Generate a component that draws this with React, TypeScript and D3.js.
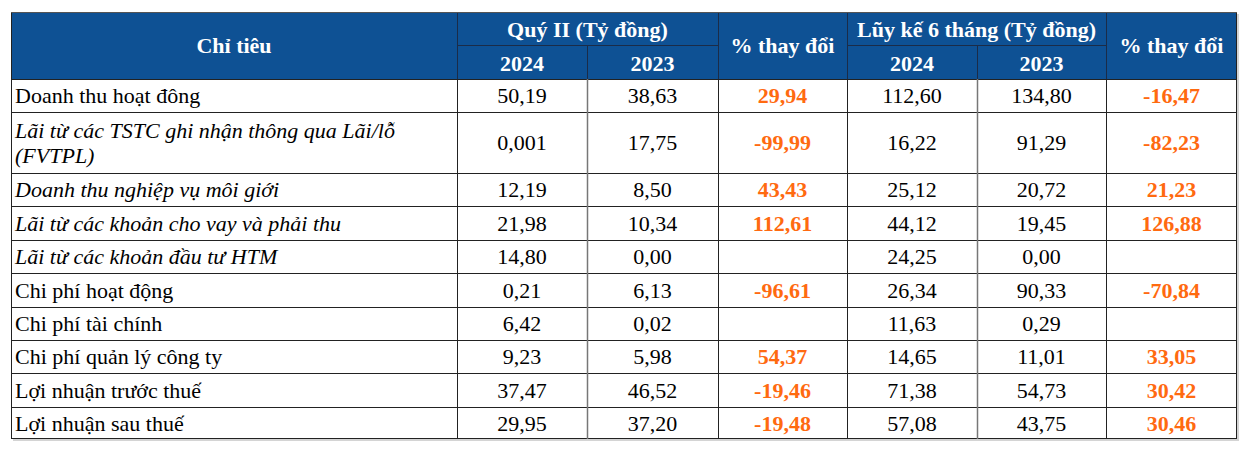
import React from "react";
import * as d3 from "d3";

const categories = [
  "Doanh thu hoạt đông",
  "Lãi từ các TSTC ghi nhận thông qua Lãi/lỗ|(FVTPL)",
  "Doanh thu nghiệp vụ môi giới",
  "Lãi từ các khoản cho vay và phải thu",
  "Lãi từ các khoản đầu tư HTM",
  "Chi phí hoạt động",
  "Chi phí tài chính",
  "Chi phí quản lý công ty",
  "Lợi nhuận trước thuế",
  "Lợi nhuận sau thuế",
];
const italicRows = [false, true, true, true, true, false, false, false, false, false];
const q2_2024 = ["50,19", "0,001", "12,19", "21,98", "14,80", "0,21", "6,42", "9,23", "37,47", "29,95"];
const q2_2023 = ["38,63", "17,75", "8,50", "10,34", "0,00", "6,13", "0,02", "5,98", "46,52", "37,20"];
const q2_change = ["29,94", "-99,99", "43,43", "112,61", "", "-96,61", "", "54,37", "-19,46", "-19,48"];
const h1_2024 = ["112,60", "16,22", "25,12", "44,12", "24,25", "26,34", "11,63", "14,65", "71,38", "57,08"];
const h1_2023 = ["134,80", "91,29", "20,72", "19,45", "0,00", "90,33", "0,29", "11,01", "54,73", "43,75"];
const h1_change = ["-16,47", "-82,23", "21,23", "126,88", "", "-70,84", "", "33,05", "30,42", "30,46"];

const groupHeaders = ["Quý II (Tỷ đồng)", "Lũy kế 6 tháng (Tỷ đồng)"];
const yearLabels = ["2024", "2023"];
const headerFirst = "Chỉ tiêu";
const headerChange = "% thay đổi";

const colEdges = [11, 457, 587, 718, 847, 977, 1106, 1237];
const rowEdges = [79, 112, 173, 206, 240, 273, 307, 340, 373, 407, 439];
const headTop = 12;
const headMid = 45.5;

const BLUE = "#0E5194";
const ORANGE = "#FF6A10";
const FONT = "Liberation Serif";
const FS = 22;

function T(props: any) {
  const { children, style, ...rest } = props;
  return (
    <text fontSize={FS} {...rest} style={{ fontFamily: FONT, ...(style || {}) }}>
      {children}
    </text>
  );
}

export default function App() {
  const cols = [q2_2024, q2_2023, q2_change, h1_2024, h1_2023, h1_change];
  const rowIdx = d3.range(categories.length);
  const cx = (i: number) => (colEdges[i] + colEdges[i + 1]) / 2;
  const hMidY = (headTop + rowEdges[0]) / 2;
  const hTopY = (headTop + headMid) / 2;
  const hBotY = (headMid + rowEdges[0]) / 2;
  const bold = { fill: "#fff", fontWeight: "bold", textAnchor: "middle", dominantBaseline: "central" } as any;
  return (
    <svg width={1250} height={455} style={{ position: "absolute", left: 0, top: 0, background: "#fff" }}>
      <rect x={0} y={0} width={1250} height={455} fill="#fff" />
      <rect x={colEdges[0] + 2} y={headTop + 2} width={colEdges[7] - colEdges[0]} height={rowEdges[10] - headTop} fill="#d4d4d4" />
      <rect x={colEdges[0]} y={headTop} width={colEdges[7] - colEdges[0]} height={rowEdges[10] - headTop} fill="#fff" />
      <rect x={colEdges[0]} y={headTop} width={colEdges[7] - colEdges[0]} height={rowEdges[0] - headTop} fill={BLUE} />
      <g stroke="#1b2c48" strokeWidth={1}>
        {[1, 3, 4, 6].map((i) => (
          <line key={"hv" + i} x1={colEdges[i] + 0.5} x2={colEdges[i] + 0.5} y1={headTop} y2={rowEdges[0]} />
        ))}
        {[2, 5].map((i) => (
          <line key={"hs" + i} x1={colEdges[i] + 0.5} x2={colEdges[i] + 0.5} y1={headMid} y2={rowEdges[0]} />
        ))}
        <line x1={colEdges[1]} x2={colEdges[3]} y1={headMid} y2={headMid} />
        <line x1={colEdges[4]} x2={colEdges[6]} y1={headMid} y2={headMid} />
      </g>
      <T {...bold} x={cx(0)} y={hMidY}>{headerFirst}</T>
      <T {...bold} x={(colEdges[1] + colEdges[3]) / 2} y={hTopY + 1}>{groupHeaders[0]}</T>
      <T {...bold} x={(colEdges[4] + colEdges[6]) / 2} y={hTopY + 1}>{groupHeaders[1]}</T>
      <T {...bold} x={cx(3)} y={hMidY}>{headerChange}</T>
      <T {...bold} x={cx(6)} y={hMidY}>{headerChange}</T>
      {[1, 2, 4, 5].map((i, k) => (
        <T key={"y" + i} {...bold} x={cx(i)} y={hBotY + 1}>{yearLabels[k % 2]}</T>
      ))}
      <g stroke="#222" strokeWidth={1}>
        {rowEdges.slice(0, rowEdges.length - 1).map((y, i) => (
          <line key={"r" + i} x1={colEdges[0]} x2={colEdges[7]} y1={y + 0.5} y2={y + 0.5} />
        ))}
        <line x1={colEdges[0]} x2={colEdges[7]} y1={rowEdges[10] - 0.5} y2={rowEdges[10] - 0.5} />
        {colEdges.map((x, i) => (
          <line key={"c" + i} x1={x + (i === 7 ? -0.5 : 0.5)} x2={x + (i === 7 ? -0.5 : 0.5)} y1={i === 0 || i === 7 ? headTop : rowEdges[0]} y2={rowEdges[10]} stroke={i === 2 || i === 5 ? "#777" : "#222"} strokeWidth={i === 2 || i === 5 ? 1.5 : 1} />
        ))}
        <line x1={colEdges[0]} x2={colEdges[7]} y1={headTop + 0.5} y2={headTop + 0.5} stroke="#555" />
      </g>
      {rowIdx.map((r) => {
        const mid = (rowEdges[r] + rowEdges[r + 1]) / 2;
        const lines = categories[r].split("|");
        return (
          <g key={"row" + r}>
            {lines.map((t, li) => (
              <T key={li} x={colEdges[0] + 4} y={mid + (li - (lines.length - 1) / 2) * 25} dominantBaseline="central" fill="#000" fontStyle={italicRows[r] ? "italic" : "normal"}>
                {t}
              </T>
            ))}
            {cols.map((c, ci) => (
              <T key={"v" + ci} x={cx(ci + 1)} y={mid} dominantBaseline="central" textAnchor="middle" fill={ci === 2 || ci === 5 ? ORANGE : "#000"} fontWeight={ci === 2 || ci === 5 ? "bold" : "normal"}>
                {c[r]}
              </T>
            ))}
          </g>
        );
      })}
    </svg>
  );
}
